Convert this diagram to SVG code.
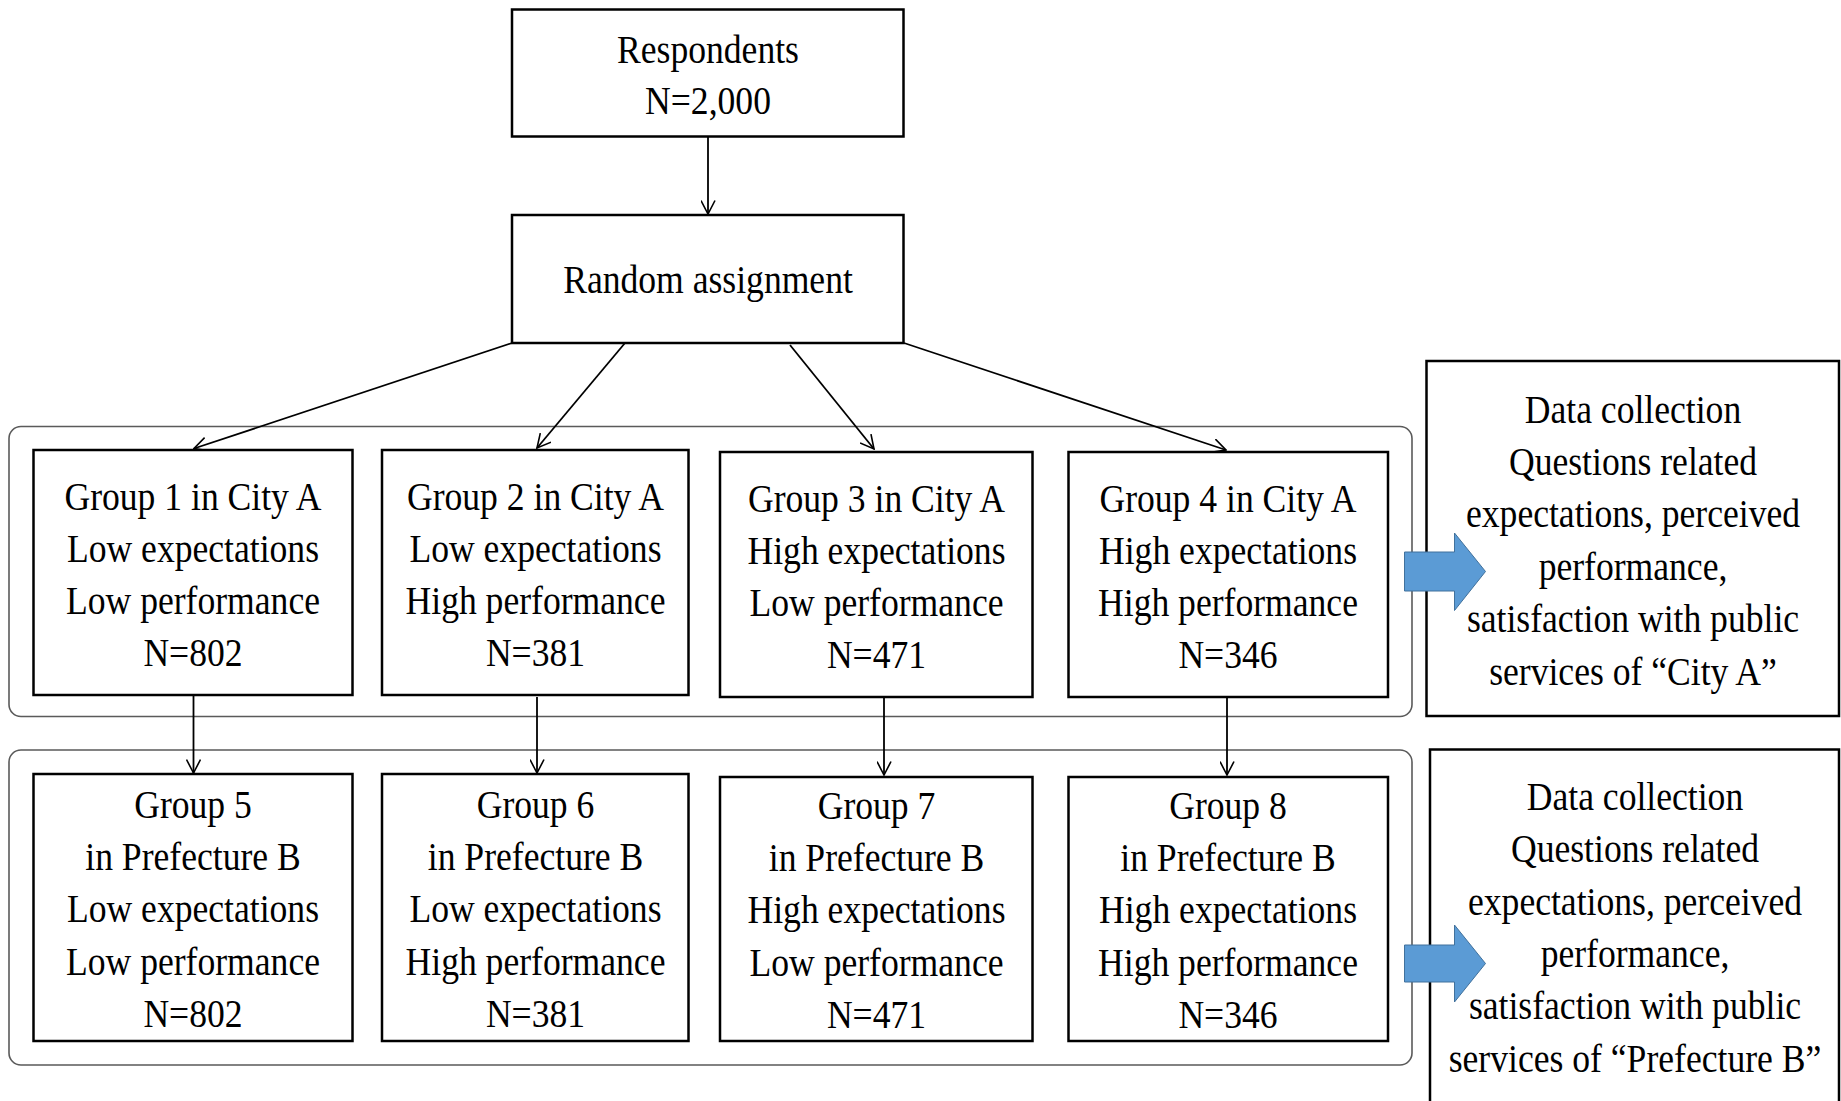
<svg xmlns="http://www.w3.org/2000/svg" width="1841" height="1101" viewBox="0 0 1841 1101">
<style>
.box{fill:#fff;stroke:#000;stroke-width:2.5}
.panel{fill:none;stroke:#5a5a5a;stroke-width:1.6}
.con{fill:none;stroke:#000;stroke-width:1.8}
.t{font-family:"Liberation Serif","Times New Roman",serif;font-size:40px;fill:#000;text-anchor:middle}
.big{fill:#5b9bd5;stroke:#41719c;stroke-width:1}
</style>
<defs>
<marker id="ah" markerUnits="userSpaceOnUse" viewBox="0 0 15 15" refX="14" refY="7.5" markerWidth="15" markerHeight="15" orient="auto">
<path d="M0.5,0.5 L14,7.5 L0.5,14.5" fill="none" stroke="#000" stroke-width="1.6"/>
</marker>
</defs>
<rect width="1841" height="1101" fill="#fff"/>

<g id="panels">
<rect class="panel" x="9" y="426.5" width="1403" height="290" rx="12"/>
<rect class="panel" x="9" y="750" width="1403" height="315" rx="12"/>
</g>

<g id="connectors">
<line class="con" x1="708" y1="137" x2="708" y2="214" marker-end="url(#ah)"/>
<line class="con" x1="512" y1="343" x2="194" y2="448.5" marker-end="url(#ah)"/>
<line class="con" x1="625" y1="343" x2="537" y2="448" marker-end="url(#ah)"/>
<line class="con" x1="790" y1="345" x2="874" y2="449" marker-end="url(#ah)"/>
<line class="con" x1="904" y1="343" x2="1226" y2="450" marker-end="url(#ah)"/>
<line class="con" x1="193.5" y1="695" x2="193.5" y2="773" marker-end="url(#ah)"/>
<line class="con" x1="537" y1="697" x2="537" y2="773" marker-end="url(#ah)"/>
<line class="con" x1="884" y1="696" x2="884" y2="775" marker-end="url(#ah)"/>
<line class="con" x1="1227" y1="697" x2="1227" y2="775" marker-end="url(#ah)"/>
</g>

<g id="respondents">
<rect class="box" x="512" y="9.5" width="391.5" height="127"/>
<text class="t" transform="translate(708 0) scale(0.89 1)"><tspan x="0" y="63">Respondents</tspan><tspan x="0" y="114">N=2,000</tspan></text>
</g>

<g id="random">
<rect class="box" x="512" y="215" width="391.5" height="128"/>
<text class="t" transform="translate(708 0) scale(0.89 1)"><tspan x="0" y="293">Random assignment</tspan></text>
</g>

<g id="group1">
<rect class="box" x="33.5" y="450" width="319" height="245"/>
<text class="t" transform="translate(193 0) scale(0.89 1)"><tspan x="0" y="510">Group 1 in City A</tspan><tspan x="0" y="562">Low expectations</tspan><tspan x="0" y="614">Low performance</tspan><tspan x="0" y="666">N=802</tspan></text>
</g>
<g id="group2">
<rect class="box" x="382" y="450" width="306.5" height="245"/>
<text class="t" transform="translate(535.5 0) scale(0.89 1)"><tspan x="0" y="510">Group 2 in City A</tspan><tspan x="0" y="562">Low expectations</tspan><tspan x="0" y="614">High performance</tspan><tspan x="0" y="666">N=381</tspan></text>
</g>
<g id="group3">
<rect class="box" x="720" y="452" width="312.5" height="245"/>
<text class="t" transform="translate(876.5 0) scale(0.89 1)"><tspan x="0" y="512">Group 3 in City A</tspan><tspan x="0" y="564">High expectations</tspan><tspan x="0" y="616">Low performance</tspan><tspan x="0" y="668">N=471</tspan></text>
</g>
<g id="group4">
<rect class="box" x="1068.5" y="452" width="319.5" height="245"/>
<text class="t" transform="translate(1228 0) scale(0.89 1)"><tspan x="0" y="512">Group 4 in City A</tspan><tspan x="0" y="564">High expectations</tspan><tspan x="0" y="616">High performance</tspan><tspan x="0" y="668">N=346</tspan></text>
</g>

<g id="group5">
<rect class="box" x="33.5" y="774" width="319" height="267"/>
<text class="t" transform="translate(193 0) scale(0.89 1)"><tspan x="0" y="818">Group 5</tspan><tspan x="0" y="870">in Prefecture B</tspan><tspan x="0" y="922">Low expectations</tspan><tspan x="0" y="975">Low performance</tspan><tspan x="0" y="1027">N=802</tspan></text>
</g>
<g id="group6">
<rect class="box" x="382" y="774" width="306.5" height="267"/>
<text class="t" transform="translate(535.5 0) scale(0.89 1)"><tspan x="0" y="818">Group 6</tspan><tspan x="0" y="870">in Prefecture B</tspan><tspan x="0" y="922">Low expectations</tspan><tspan x="0" y="975">High performance</tspan><tspan x="0" y="1027">N=381</tspan></text>
</g>
<g id="group7">
<rect class="box" x="720" y="777" width="312.5" height="264"/>
<text class="t" transform="translate(876.5 0) scale(0.89 1)"><tspan x="0" y="819">Group 7</tspan><tspan x="0" y="871">in Prefecture B</tspan><tspan x="0" y="923">High expectations</tspan><tspan x="0" y="976">Low performance</tspan><tspan x="0" y="1028">N=471</tspan></text>
</g>
<g id="group8">
<rect class="box" x="1068.5" y="777" width="319.5" height="264"/>
<text class="t" transform="translate(1228 0) scale(0.89 1)"><tspan x="0" y="819">Group 8</tspan><tspan x="0" y="871">in Prefecture B</tspan><tspan x="0" y="923">High expectations</tspan><tspan x="0" y="976">High performance</tspan><tspan x="0" y="1028">N=346</tspan></text>
</g>

<g id="dataA">
<rect class="box" x="1426.5" y="361" width="412.5" height="355"/>
<text class="t" transform="translate(1633 0) scale(0.89 1)"><tspan x="0" y="423">Data collection</tspan><tspan x="0" y="475">Questions related</tspan><tspan x="0" y="527">expectations, perceived</tspan><tspan x="0" y="580">performance,</tspan><tspan x="0" y="632">satisfaction with public</tspan><tspan x="0" y="685">services of “City A”</tspan></text>
</g>
<g id="dataB">
<rect class="box" x="1430" y="749.5" width="409" height="370"/>
<text class="t" transform="translate(1635 0) scale(0.89 1)"><tspan x="0" y="810">Data collection</tspan><tspan x="0" y="862">Questions related</tspan><tspan x="0" y="915">expectations, perceived</tspan><tspan x="0" y="967">performance,</tspan><tspan x="0" y="1019">satisfaction with public</tspan><tspan x="0" y="1072">services of “Prefecture B”</tspan></text>
</g>

<g id="blockarrowA">
<polygon class="big" points="1404.5,552 1454.5,552 1454.5,533 1485.5,571.5 1454.5,610.5 1454.5,591 1404.5,591"/>
</g>
<g id="blockarrowB">
<polygon class="big" points="1404.5,945 1454.5,945 1454.5,925 1485.5,963.5 1454.5,1002 1454.5,982 1404.5,982"/>
</g>
</svg>
